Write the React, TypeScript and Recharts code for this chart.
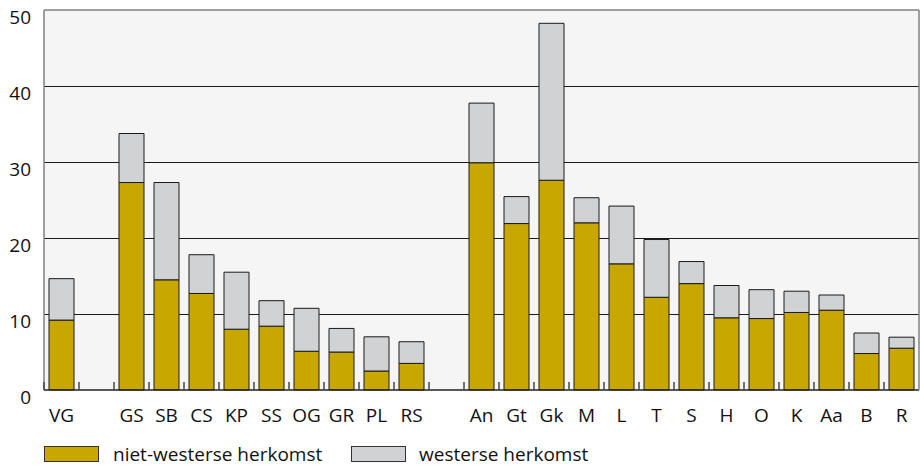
import React from 'react';
import { BarChart, Bar, XAxis, YAxis, CartesianGrid, ReferenceLine, Legend } from 'recharts';

const categories = ['VG', '', 'GS', 'SB', 'CS', 'KP', 'SS', 'OG', 'GR', 'PL', 'RS', '', 'An', 'Gt', 'Gk', 'M', 'L', 'T', 'S', 'H', 'O', 'K', 'Aa', 'B', 'R'];
const nietWesters: (number | null)[] = [9.2, null, 27.3, 14.5, 12.7, 8.0, 8.4, 5.1, 5.0, 2.5, 3.5, null, 29.9, 21.9, 27.6, 22.0, 16.6, 12.2, 14.0, 9.5, 9.4, 10.2, 10.5, 4.8, 5.5];
const westers: (number | null)[] = [5.45, null, 6.45, 12.8, 5.1, 7.5, 3.35, 5.65, 3.1, 4.5, 2.85, null, 7.85, 3.55, 20.65, 3.3, 7.6, 7.6, 2.9, 4.25, 3.8, 2.8, 2.0, 2.7, 1.45];
const yTicks = [0, 10, 20, 30, 40, 50];
const gridValues = [10, 20, 30, 40];
const legendLabels = ['niet-westerse herkomst', 'westerse herkomst'];

const data = categories.map((name, i) => ({ name, niet: nietWesters[i], west: westers[i] }));

const W = 920;
const H = 466;
const M = { top: 10, right: 0, left: 0, bottom: 0 };
const Y_W = 44;
const X_H = 76;
const FONT = '"Open Sans", sans-serif';
const FS = 19;
const GOLD = '#c8a800';
const GREY = '#d1d2d4';
const slot = (W - Y_W - 1) / categories.length;

const XTick = (props: any) => {
  const { x, y, payload } = props;
  return (
    <g>
      <line x1={x - slot / 2} x2={x - slot / 2} y1={y - 8} y2={y} stroke="#444" strokeWidth={1.5} />
      <text x={x} y={y + 32} textAnchor="middle" fontFamily={FONT} fontSize={FS} fill="#111">
        {payload.value}
      </text>
    </g>
  );
};

const YTick = (props: any) => {
  const { x, y, payload } = props;
  return (
    <text x={x} y={y + 6.5} textAnchor="end" dominantBaseline="central" fontFamily={FONT} fontSize={FS} fill="#111">
      {payload.value}
    </text>
  );
};

const GridLine = (p: any) => (
  <line x1={p.x1} y1={p.y1} x2={p.x2} y2={p.y2} stroke="#1a1a1a" strokeWidth={1} shapeRendering="crispEdges" />
);

const LegendContent = () => (
  <svg width={W} height={26} style={{ display: 'block' }}>
    <rect x={44.5} y={6.5} width={54} height={15} fill={GOLD} stroke="#333" strokeWidth={1} />
    <text x={113} y={21} fontFamily={FONT} fontSize={FS} fill="#111">{legendLabels[0]}</text>
    <rect x={351.5} y={6.5} width={54} height={15} fill={GREY} stroke="#333" strokeWidth={1} />
    <text x={419} y={21} fontFamily={FONT} fontSize={FS} fill="#111">{legendLabels[1]}</text>
  </svg>
);

export default function App() {
  return (
    <div style={{ position: 'absolute', left: 0, top: 0, width: W, height: H, background: '#fff' }}>
      <BarChart width={W} height={H} data={data} margin={M} barSize={25}>
        <CartesianGrid yAxisId="left" fill="#f5f5f5" vertical={false} horizontalValues={gridValues} horizontal={GridLine} />
        <XAxis
          dataKey="name"
          height={X_H}
          tickLine={false}
          tickSize={0}
          tickMargin={0}
          axisLine={{ stroke: '#222', strokeWidth: 1.5 }}
          tick={<XTick />}
          interval={0}
        />
        <YAxis
          yAxisId="left"
          width={Y_W}
          domain={[0, 50]}
          ticks={yTicks}
          tickLine={false}
          tickSize={0}
          tickMargin={13}
          axisLine={{ stroke: '#808080', strokeWidth: 1.5 }}
          tick={<YTick />}
        />
        <YAxis yAxisId="right" orientation="right" width={1} domain={[0, 50]} tick={false} tickLine={false} axisLine={{ stroke: '#808080', strokeWidth: 1.5 }} />
        <ReferenceLine yAxisId="left" y={50} stroke="#808080" strokeWidth={1.5} ifOverflow="extendDomain" />
        <Bar yAxisId="left" dataKey="niet" stackId="a" fill={GOLD} stroke="#1a1a1a" strokeWidth={1} isAnimationActive={false} />
        <Bar yAxisId="left" dataKey="west" stackId="a" fill={GREY} stroke="#1a1a1a" strokeWidth={1} isAnimationActive={false} />
        <Legend
          layout="horizontal"
          verticalAlign="middle"
          align="center"
          content={<LegendContent />}
          wrapperStyle={{ left: 0, top: 440, width: W, height: 26 }}
        />
      </BarChart>
    </div>
  );
}
